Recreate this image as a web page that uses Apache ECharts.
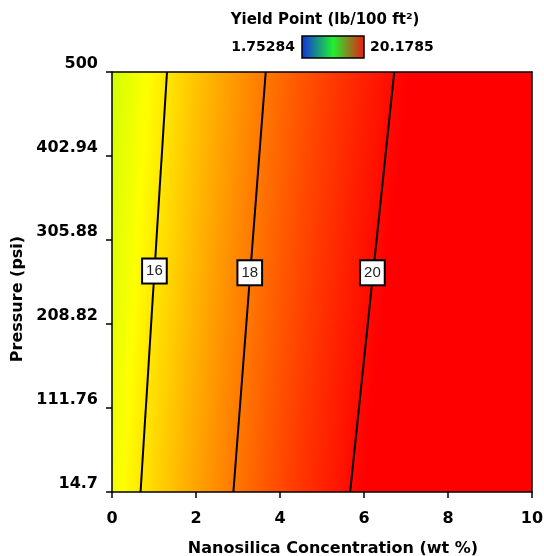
<!DOCTYPE html>
<html>
<head>
<meta charset="utf-8">
<script src="https://cdn.jsdelivr.net/npm/echarts@6/dist/echarts.min.js"></script>
<style>
  html, body { margin: 0; padding: 0; background: #fff; }
  #chart { width: 544px; height: 556px; }
</style>
</head>
<body>
<div id="chart"></div>
<script>
// Nanosilica concentration grid (wt %)
const concentration = [0, 0.5, 1, 1.5, 2, 2.5, 3, 3.5, 4, 4.5, 5, 5.5, 6, 6.5, 7, 7.5, 8, 8.5, 9, 9.5, 10];
// Pressure grid (psi)
const pressure = [14.7, 111.76, 208.82, 305.88, 402.94, 500];
// Axis tick values
const pressureTicks = [14.7, 111.76, 208.82, 305.88, 402.94, 500];

// Yield point (lb/100 ft²), one row per pressure level
const yieldAtP14_7   = [15.31, 15.82, 16.31, 16.78, 17.23, 17.67, 18.08, 18.48, 18.86, 19.22, 19.56, 19.88, 20.19, 20.47, 20.74, 20.99, 21.22, 21.43, 21.63, 21.80, 21.96];
const yieldAtP111_76 = [15.19, 15.70, 16.19, 16.66, 17.11, 17.55, 17.96, 18.36, 18.74, 19.10, 19.44, 19.76, 20.07, 20.35, 20.62, 20.87, 21.10, 21.31, 21.51, 21.68, 21.84];
const yieldAtP208_82 = [15.07, 15.58, 16.07, 16.54, 16.99, 17.43, 17.84, 18.24, 18.62, 18.98, 19.32, 19.64, 19.95, 20.23, 20.50, 20.75, 20.98, 21.19, 21.39, 21.56, 21.72];
const yieldAtP305_88 = [14.95, 15.46, 15.95, 16.42, 16.87, 17.31, 17.72, 18.12, 18.50, 18.86, 19.20, 19.52, 19.83, 20.11, 20.38, 20.63, 20.86, 21.07, 21.27, 21.44, 21.60];
const yieldAtP402_94 = [14.83, 15.34, 15.83, 16.30, 16.75, 17.19, 17.60, 18.00, 18.38, 18.74, 19.08, 19.40, 19.71, 19.99, 20.26, 20.51, 20.74, 20.95, 21.15, 21.32, 21.48];
const yieldAtP500    = [14.71, 15.22, 15.71, 16.18, 16.63, 17.07, 17.48, 17.88, 18.26, 18.62, 18.96, 19.28, 19.59, 19.87, 20.14, 20.39, 20.62, 20.83, 21.03, 21.20, 21.36];
const yieldRows = [yieldAtP14_7, yieldAtP111_76, yieldAtP208_82, yieldAtP305_88, yieldAtP402_94, yieldAtP500];

// Colour scale range
const yieldMin = 1.75284;
const yieldMax = 20.1785;
const yieldMinLabel = '1.75284';
const yieldMaxLabel = '20.1785';

// Contour lines: [concentration, pressure] end points
const contour16 = [[0.68, 14.7], [1.31, 500]];
const contour18 = [[2.89, 14.7], [3.66, 500]];
const contour20 = [[5.67, 14.7], [6.72, 500]];
// Contour label anchors: [concentration, pressure, level]
const contourLabels = [[1.01, 270, 16], [3.28, 268, 18], [6.2, 268, 20]];

// blue -> cyan -> green -> yellow -> red
const paletteStops = [[0, 0, 255], [0, 255, 255], [0, 255, 0], [255, 255, 0], [255, 0, 0]];
function colorFor(v) {
  let t = (v - yieldMin) / (yieldMax - yieldMin);
  t = Math.max(0, Math.min(1, t));
  const s = t * (paletteStops.length - 1);
  const i = Math.min(paletteStops.length - 2, Math.floor(s));
  const f = s - i;
  const a = paletteStops[i], b = paletteStops[i + 1];
  const c = a.map((av, k) => Math.round(av + (b[k] - av) * f));
  return 'rgb(' + c.join(',') + ')';
}

// One cell per grid interval: [x0, x1, p0, p1, z(x0,p0), z(x1,p0), z(x0,p1)]
const cells = [];
for (let r = 0; r < pressure.length - 1; r++) {
  for (let c = 0; c < concentration.length - 1; c++) {
    cells.push([
      concentration[c], concentration[c + 1], pressure[r], pressure[r + 1],
      yieldRows[r][c], yieldRows[r][c + 1], yieldRows[r + 1][c]
    ]);
  }
}

const boldFont = 'DejaVu Sans';
const chart = echarts.init(document.getElementById('chart'), null, { renderer: 'canvas' });

function contourSeries(data) {
  return {
    type: 'line', data: data, symbol: 'none', z: 3, silent: true,
    lineStyle: { color: '#000', width: 2 }
  };
}

const frameLine = { show: true, onZero: false, lineStyle: { color: '#000', width: 1.5 } };

// Shade a cell with a linear gradient running along the local slope of the surface,
// so neighbouring cells meet without visible steps.
function renderCell(params, api) {
  const pBL = api.coord([api.value(0), api.value(2)]);
  const pTR = api.coord([api.value(1), api.value(3)]);
  const zBL = api.value(4), zBR = api.value(5), zTL = api.value(6);
  const gx = (zBR - zBL) / (pTR[0] - pBL[0]);
  const gy = (zTL - zBL) / (pTR[1] - pBL[1]);
  const g2 = gx * gx + gy * gy;
  const zAt = (px, py) => zBL + gx * (px - pBL[0]) + gy * (py - pBL[1]);
  const corners = [zAt(pBL[0], pBL[1]), zAt(pTR[0], pBL[1]), zAt(pBL[0], pTR[1]), zAt(pTR[0], pTR[1])];
  const zLo = Math.min.apply(null, corners), zHi = Math.max.apply(null, corners);
  const ax = pBL[0] + gx * (zLo - zBL) / g2, ay = pBL[1] + gy * (zLo - zBL) / g2;
  const bx = pBL[0] + gx * (zHi - zBL) / g2, by = pBL[1] + gy * (zHi - zBL) / g2;
  const stops = [];
  const n = 6;
  for (let k = 0; k <= n; k++) {
    stops.push({ offset: k / n, color: colorFor(zLo + (zHi - zLo) * k / n) });
  }
  const x = Math.floor(Math.min(pBL[0], pTR[0]));
  const y = Math.floor(Math.min(pBL[1], pTR[1]));
  const x2 = Math.ceil(Math.max(pBL[0], pTR[0])) + 1;
  const y2 = Math.ceil(Math.max(pBL[1], pTR[1])) + 1;
  return {
    type: 'rect',
    shape: { x: x, y: y, width: x2 - x, height: y2 - y },
    style: {
      fill: new echarts.graphic.LinearGradient(ax, ay, bx, by, stops, true),
      stroke: null
    }
  };
}

chart.setOption({
  animation: false,
  backgroundColor: '#fff',
  grid: { left: 112, right: 12, top: 72, bottom: 64, containLabel: false, outerBoundsMode: 'none' },
  xAxis: [{
    type: 'value', min: 0, max: 10, interval: 2, z: 10,
    name: 'Nanosilica Concentration (wt %)', nameLocation: 'middle', nameGap: 49,
    nameTextStyle: { fontFamily: boldFont, fontWeight: 'bold', fontSize: 16, color: '#000', padding: [0, 0, 0, 22] },
    axisLine: frameLine,
    axisTick: { show: true, length: 6, lineStyle: { color: '#000', width: 1.5 } },
    axisLabel: { color: '#000', fontFamily: boldFont, fontWeight: 'bold', fontSize: 16, margin: 19 },
    splitLine: { show: false }
  }, {
    type: 'value', min: 0, max: 10, position: 'top', z: 10,
    axisLine: frameLine,
    axisTick: { show: false }, axisLabel: { show: false }, splitLine: { show: false }
  }],
  yAxis: [{
    type: 'value', min: 14.7, max: 500, z: 10,
    name: 'Pressure (psi)', nameLocation: 'middle', nameGap: 70, nameRotate: 90,
    nameTextStyle: { fontFamily: boldFont, fontWeight: 'bold', fontSize: 16, color: '#000', padding: [0, 34, 0, 0] },
    axisLine: frameLine,
    axisTick: { show: true, length: 6, customValues: pressureTicks, lineStyle: { color: '#000', width: 1.5 } },
    axisLabel: {
      customValues: pressureTicks, color: '#000', fontFamily: boldFont, fontWeight: 'bold',
      fontSize: 16, margin: 14, verticalAlign: 'bottom',
      formatter: v => String(+v.toFixed(2))
    },
    splitLine: { show: false }
  }, {
    type: 'value', min: 14.7, max: 500, position: 'right', z: 10,
    axisLine: frameLine,
    axisTick: { show: false }, axisLabel: { show: false }, splitLine: { show: false }
  }],
  series: [
    {
      type: 'custom', z: 1, silent: true, clip: true,
      data: cells,
      renderItem: renderCell
    },
    contourSeries(contour16),
    contourSeries(contour18),
    contourSeries(contour20),
    {
      type: 'scatter', z: 4, silent: true,
      data: contourLabels,
      symbol: 'circle',
      symbolSize: 2,
      itemStyle: { color: 'rgba(0,0,0,0)', opacity: 1 },
      labelLayout: { hideOverlap: false },
      label: {
        show: true, position: 'inside',
        formatter: p => String(p.value[2]),
        color: '#222', fontFamily: 'Liberation Sans', fontSize: 15,
        backgroundColor: '#fff', borderColor: '#000', borderWidth: 2,
        padding: [4, 3, 4, 3]
      }
    }
  ],
  graphic: [
    {
      type: 'text', x: 325, y: 20,
      style: { text: 'Yield Point (lb/100 ft²)', fill: '#000', font: 'bold 15px "DejaVu Sans"', align: 'center', verticalAlign: 'middle' }
    },
    {
      type: 'rect', shape: { x: 302, y: 36, width: 62, height: 22 },
      style: {
        fill: new echarts.graphic.LinearGradient(0, 0, 1, 0, [
          { offset: 0, color: '#1030e0' },
          { offset: 0.5, color: '#20f030' },
          { offset: 1, color: '#f01810' }
        ]),
        stroke: '#000', lineWidth: 1.5
      }
    },
    {
      type: 'text', x: 295, y: 47,
      style: { text: yieldMinLabel, fill: '#000', font: 'bold 14px "DejaVu Sans"', align: 'right', verticalAlign: 'middle' }
    },
    {
      type: 'text', x: 370, y: 47,
      style: { text: yieldMaxLabel, fill: '#000', font: 'bold 14px "DejaVu Sans"', align: 'left', verticalAlign: 'middle' }
    }
  ]
});
</script>
</body>
</html>
